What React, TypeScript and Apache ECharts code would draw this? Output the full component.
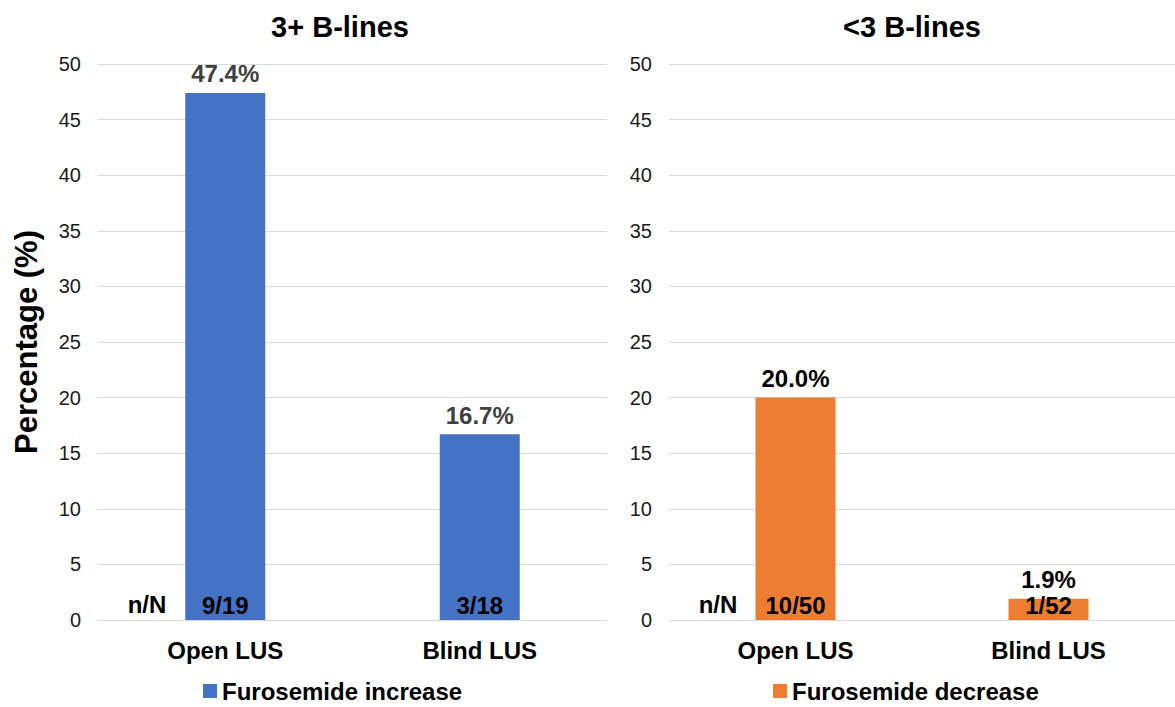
import React, { useEffect, useRef } from "react";
import * as echarts from "echarts";

const categories = ["Open LUS", "Blind LUS"];
const increaseValues = [47.4, 16.7];
const increaseCounts = ["9/19", "3/18"];
const decreaseValues = [20.0, 1.9];
const decreaseCounts = ["10/50", "1/52"];
const panelTitles = ["3+ B-lines", "<3 B-lines"];
const seriesNames = ["Furosemide increase", "Furosemide decrease"];
const yTicks = { min: 0, max: 50, interval: 5 };

const FONT = "'Liberation Sans', Arial, sans-serif";

export default function App() {
  const ref = useRef<HTMLDivElement>(null);
  useEffect(() => {
    if (!ref.current) return;
    const chart = echarts.init(ref.current, null, { renderer: "svg" });

    const xAxisBase = (gridIndex: number) => ({
      type: "category" as const,
      gridIndex,
      data: categories,
      axisLine: { show: true, lineStyle: { color: "#D9D9D9", width: 1 } },
      axisTick: { show: false },
      axisLabel: {
        fontFamily: FONT,
        fontSize: 24,
        fontWeight: "bold",
        color: "#000",
        margin: 18,
      },
    });
    const yAxisBase = (gridIndex: number) => ({
      type: "value" as const,
      gridIndex,
      min: yTicks.min,
      max: yTicks.max,
      interval: yTicks.interval,
      axisLine: { show: false },
      axisTick: { show: false },
      splitLine: { show: true, lineStyle: { color: "#D9D9D9", width: 1 } },
      axisLabel: {
        fontFamily: FONT,
        fontSize: 20,
        color: "#1a1a1a",
        margin: 17,
      },
    });

    const topLabel = (color: string) => ({
      show: true,
      position: "top" as const,
      distance: 7,
      fontFamily: FONT,
      fontSize: 24,
      fontWeight: "bold",
      color,
      formatter: (p: any) => Number(p.value).toFixed(1) + "%",
    });
    const bottomLabel = (counts: string[]) => ({
      show: true,
      position: "insideBottom" as const,
      distance: 3,
      fontFamily: FONT,
      fontSize: 24,
      fontWeight: "bold",
      color: "#000",
      formatter: (p: any) => counts[p.dataIndex],
    });

    const legendText = { fontFamily: FONT, fontSize: 24, fontWeight: "bold", color: "#000" };
    const titleText = { fontFamily: FONT, fontSize: 29, fontWeight: "bold", color: "#000" };
    const nnStyle = {
      text: "n/N",
      fontFamily: FONT,
      fontSize: 24,
      fontWeight: "bold",
      fill: "#000",
      textAlign: "center",
      textVerticalAlign: "middle",
    };

    chart.setOption({
      animation: false,
      backgroundColor: "#fff",
      textStyle: { fontFamily: FONT },
      title: [
        { text: panelTitles[0], left: 335, top: 7, textAlign: "center", textStyle: titleText },
        { text: panelTitles[1], left: 907, top: 7, textAlign: "center", textStyle: titleText },
      ],
      legend: [
        {
          data: [seriesNames[0]],
          left: 203,
          top: 679,
          padding: 0,
          itemWidth: 14,
          itemHeight: 14,
          icon: "rect",
          textStyle: legendText,
        },
        {
          data: [seriesNames[1]],
          left: 773,
          top: 679,
          padding: 0,
          itemWidth: 14,
          itemHeight: 14,
          icon: "rect",
          textStyle: legendText,
        },
      ],
      grid: [
        { left: 98, top: 64, width: 509, height: 556 },
        { left: 669, top: 64, width: 509, height: 556 },
      ],
      xAxis: [xAxisBase(0), xAxisBase(1)],
      yAxis: [
        {
          ...yAxisBase(0),
          name: "Percentage (%)",
          nameLocation: "middle",
          nameGap: 56,
          nameRotate: 90,
          nameTextStyle: { fontFamily: FONT, fontSize: 31, fontWeight: "bold", color: "#000" },
        },
        yAxisBase(1),
      ],
      graphic: [
        { type: "text", x: 147, y: 604, style: nnStyle },
        { type: "text", x: 718, y: 604, style: nnStyle },
      ],
      series: [
        {
          name: seriesNames[0],
          type: "bar",
          xAxisIndex: 0,
          yAxisIndex: 0,
          data: increaseValues,
          barWidth: 80,
          itemStyle: { color: "#4472C4" },
          label: topLabel("#404040"),
        },
        {
          name: "increase-counts",
          type: "bar",
          xAxisIndex: 0,
          yAxisIndex: 0,
          data: increaseValues,
          barWidth: 80,
          barGap: "-100%",
          itemStyle: { color: "rgba(0,0,0,0)" },
          label: bottomLabel(increaseCounts),
          z: 3,
        },
        {
          name: seriesNames[1],
          type: "bar",
          xAxisIndex: 1,
          yAxisIndex: 1,
          data: decreaseValues,
          barWidth: 80,
          itemStyle: { color: "#ED7D31" },
          label: topLabel("#000"),
        },
        {
          name: "decrease-counts",
          type: "bar",
          xAxisIndex: 1,
          yAxisIndex: 1,
          data: decreaseValues,
          barWidth: 80,
          barGap: "-100%",
          itemStyle: { color: "rgba(0,0,0,0)" },
          label: bottomLabel(decreaseCounts),
          z: 3,
        },
      ],
    });
    return () => chart.dispose();
  }, []);
  return (
    <div
      ref={ref}
      style={{ position: "fixed", left: 0, top: 0, width: 1175, height: 707 }}
    />
  );
}
